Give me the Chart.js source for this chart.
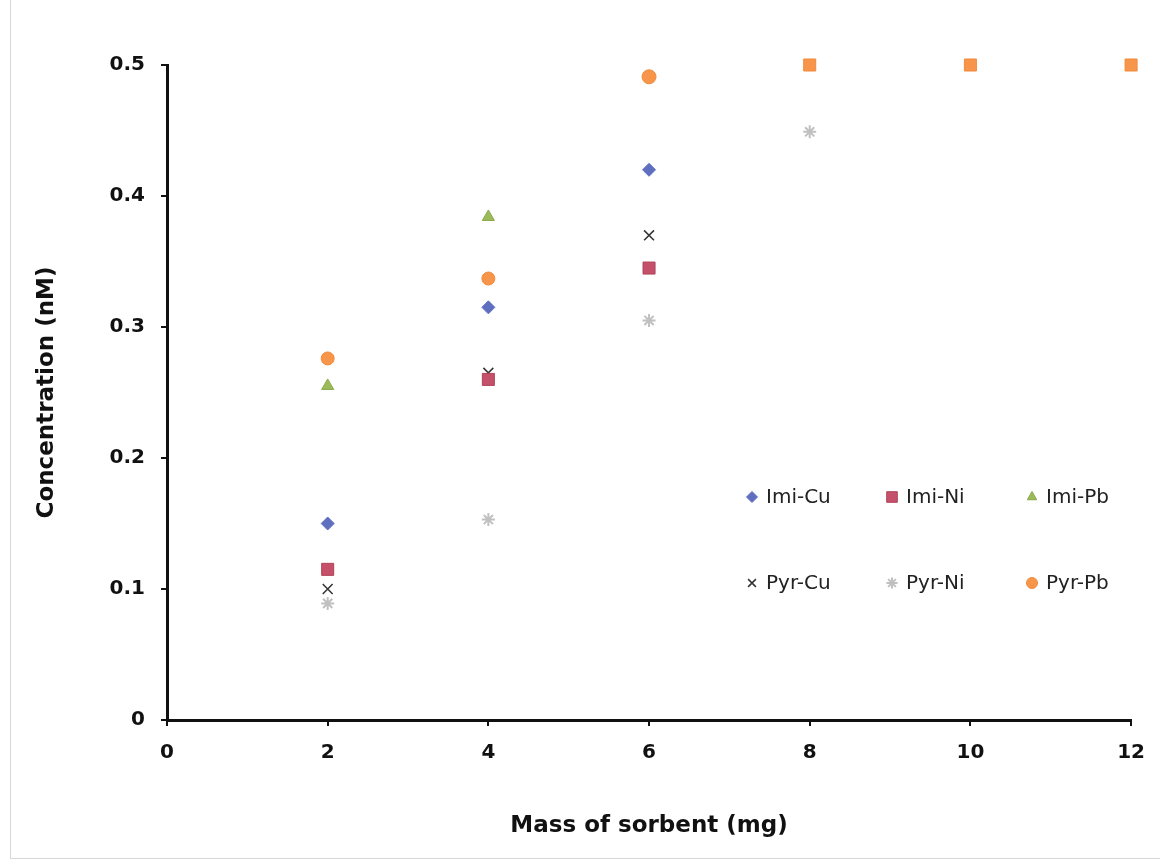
<!DOCTYPE html>
<html>
<head>
<meta charset="utf-8">
<script src="https://cdn.jsdelivr.net/npm/chart.js@4.4.1/dist/chart.umd.min.js"></script>
<style>
  html, body { margin: 0; padding: 0; background: #fff; }
  #wrap { position: relative; width: 1160px; height: 868px; }
  #frame { position: absolute; left: 10px; top: 0; width: 1150px; height: 858px;
           border-left: 1px solid #d8d8d8; border-bottom: 1px solid #d8d8d8; pointer-events: none; }
</style>
</head>
<body>
<div id="wrap">
  <canvas id="chart" width="1160" height="868"></canvas>
  <div id="frame"></div>
</div>
<script>
// sorbent mass (mg) for each series
const massImiCu = [2, 4, 6];
const massImiNi = [2, 4, 6];
const massImiPb = [2, 4];
const massPyrCu = [2, 4, 6];
const massPyrNi = [2, 4, 6, 8];
const massPyrPb = [2, 4, 6, 8, 10, 12];

// concentration (nM)
const imiCu = [0.15, 0.315, 0.42];
const imiNi = [0.115, 0.26, 0.345];
const imiPb = [0.255, 0.384];
const pyrCu = [0.1, 0.265, 0.37];
const pyrNi = [0.089, 0.153, 0.305, 0.449];
const pyrPb = [0.276, 0.337, 0.491, 0.5, 0.5, 0.5];

const xTicks = [0, 2, 4, 6, 8, 10, 12];
const yTicks = [0, 0.1, 0.2, 0.3, 0.4, 0.5];

const pts = (xs, ys) => xs.map((x, i) => ({ x: x, y: ys[i] }));

const datasets = [
  { label: 'Imi-Cu', data: pts(massImiCu, imiCu), pointStyle: 'rectRot', pointRadius: 6.5,
    backgroundColor: '#5f6fc0', borderColor: '#5f6fc0' },
  { label: 'Imi-Ni', data: pts(massImiNi, imiNi), pointStyle: 'rect', pointRadius: 8.5,
    backgroundColor: '#c4506a', borderColor: '#b04458' },
  { label: 'Imi-Pb', data: pts(massImiPb, imiPb), pointStyle: 'triangle', pointRadius: 7,
    backgroundColor: '#9bbb59', borderColor: '#8aa84c' },
  { label: 'Pyr-Cu', data: pts(massPyrCu, pyrCu), pointStyle: 'crossRot', pointRadius: 7,
    backgroundColor: '#333', borderColor: '#333', pointBorderWidth: 1.5 },
  { label: 'Pyr-Ni', data: pts(massPyrNi, pyrNi), pointStyle: 'star', pointRadius: 6.5,
    backgroundColor: '#c4c4c4', borderColor: '#c0c0c0', pointBorderWidth: 2 },
  { label: 'Pyr-Pb', data: pts(massPyrPb, pyrPb),
    pointStyle: ['circle', 'circle', 'circle', 'rect', 'rect', 'rect'], pointRadius: [6.5, 6.5, 7, 8.5, 8.5, 8.5],
    backgroundColor: '#f7964a', borderColor: '#f08a3c' }
];

// legend drawn inside the plot area, 3 columns x 2 rows
const insideLegend = {
  id: 'insideLegend',
  afterDraw(chart) {
    const ctx = chart.ctx;
    const x0 = 752, y0 = 497, colW = 140, rowH = 86;
    ctx.save();
    ctx.font = '20px "DejaVu Sans", sans-serif';
    ctx.textBaseline = 'middle';
    chart.data.datasets.forEach((ds, i) => {
      const cx = x0 + (i % 3) * colW;
      const cy = y0 + Math.floor(i / 3) * rowH;
      const style = Array.isArray(ds.pointStyle) ? ds.pointStyle[0] : ds.pointStyle;
      ctx.fillStyle = ds.backgroundColor;
      ctx.strokeStyle = ds.borderColor;
      ctx.lineWidth = ds.pointBorderWidth || 1;
      Chart.helpers.drawPoint(ctx, { pointStyle: style, radius: style === 'rect' ? 7.5 : 5.5, rotation: 0, borderWidth: ctx.lineWidth }, cx, cy);
      ctx.fillStyle = '#222';
      ctx.fillText(ds.label, cx + 14, cy + 1);
    });
    ctx.restore();
  }
};

const tickFont = { family: '"DejaVu Sans", sans-serif', size: 20, weight: 'bold' };
const titleFont = { family: '"DejaVu Sans", sans-serif', size: 23, weight: 'bold' };

new Chart(document.getElementById('chart').getContext('2d'), {
  type: 'scatter',
  data: { datasets: datasets },
  options: {
    responsive: false,
    animation: false,
    clip: false,
    layout: { padding: { left: 20, right: 25, top: 65, bottom: 20 } },
    plugins: { legend: { display: false }, tooltip: { enabled: false } },
    scales: {
      x: {
        type: 'linear', min: 0, max: 12,
        afterBuildTicks: s => { s.ticks = xTicks.map(v => ({ value: v })); },
        afterFit: s => { s.height = 128; },
        ticks: { font: tickFont, color: '#111', padding: 15 },
        grid: { display: true, drawOnChartArea: false, drawTicks: true, tickLength: 6, color: '#111', lineWidth: 2 },
        border: { display: true, color: '#111', width: 3 },
        title: { display: true, text: 'Mass of sorbent (mg)', font: titleFont, color: '#111', padding: { top: 0, bottom: 8 } }
      },
      y: {
        type: 'linear', min: 0, max: 0.5,
        afterBuildTicks: s => { s.ticks = yTicks.map(v => ({ value: v })); },
        afterFit: s => { s.width = 147; },
        ticks: { font: tickFont, color: '#111', padding: 16, callback: v => v === 0 ? '0' : v.toFixed(1) },
        grid: { display: true, drawOnChartArea: false, drawTicks: true, tickLength: 6, color: '#111', lineWidth: 2 },
        border: { display: true, color: '#111', width: 3 },
        title: { display: true, text: 'Concentration (nM)', font: titleFont, color: '#111', padding: { top: 13, bottom: 0 } }
      }
    }
  },
  plugins: [insideLegend]
});
</script>
</body>
</html>
